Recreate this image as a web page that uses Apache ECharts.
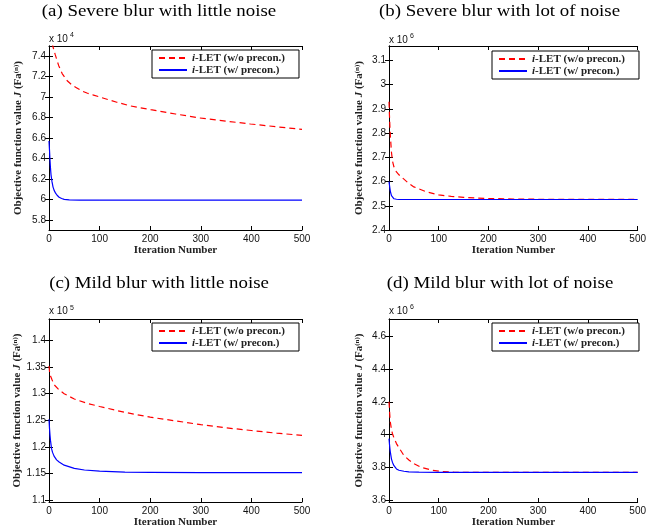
<!DOCTYPE html>
<html><head><meta charset="utf-8">
<script src="https://cdn.jsdelivr.net/npm/echarts@6/dist/echarts.min.js"></script>
<style>html,body{margin:0;padding:0;background:#fff}#c{width:649px;height:531px}</style>
</head><body><div id="c"></div>
<script>
// ---------- data ----------
const panelTitles = ['(a) Severe blur with little noise', '(b) Severe blur with lot of noise',
                     '(c) Mild blur with little noise', '(d) Mild blur with lot of noise'];
const seriesNames = ['i-LET (w/o precon.)', 'i-LET (w/ precon.)'];
const exponents = ['4', '6', '5', '6'];
const xTicks = [0, 100, 200, 300, 400, 500];
const xRange = [0, 500];
const yTicksA = [5.8, 6, 6.2, 6.4, 6.6, 6.8, 7, 7.2, 7.4];
const yTicksB = [2.4, 2.5, 2.6, 2.7, 2.8, 2.9, 3, 3.1];
const yTicksC = [1.1, 1.15, 1.2, 1.25, 1.3, 1.35, 1.4];
const yTicksD = [3.6, 3.8, 4, 4.2, 4.4, 4.6];
const yRangeA = [5.7, 7.5];
const yRangeB = [2.4, 3.16];
const yRangeC = [1.097, 1.44];
const yRangeD = [3.588, 4.706];

// (a) values x 10^4
const iterA_noPre = [0, 4, 8, 12, 19, 26, 36, 45, 55, 65, 75, 88, 101, 117, 134, 160, 201, 250, 298, 350, 398, 450, 500];
const valA_noPre  = [7.72, 7.58, 7.49, 7.42, 7.31, 7.23, 7.16, 7.12, 7.09, 7.06, 7.04, 7.02, 7.0, 6.975, 6.95, 6.915, 6.877, 6.835, 6.796, 6.765, 6.737, 6.71, 6.684];
const iterA_pre   = [0, 1, 2, 3, 4, 6, 8, 10, 13, 16, 20, 25, 30, 40, 60, 100, 200, 300, 400, 500];
const valA_pre    = [6.57, 6.48, 6.38, 6.30, 6.24, 6.17, 6.12, 6.09, 6.06, 6.04, 6.02, 6.008, 6.0, 5.995, 5.993, 5.992, 5.992, 5.992, 5.992, 5.992];
// (b) values x 10^6
const iterB_noPre = [0, 1, 2, 3, 5, 7, 10, 15, 20, 30, 40, 50, 75, 100, 125, 150, 200, 250, 300, 400, 500];
const valB_noPre  = [2.93, 2.87, 2.82, 2.78, 2.72, 2.685, 2.66, 2.64, 2.628, 2.61, 2.592, 2.578, 2.558, 2.545, 2.539, 2.535, 2.53, 2.528, 2.527, 2.527, 2.527];
const iterB_pre   = [0, 1, 2, 3, 5, 7, 10, 15, 20, 30, 100, 500];
const valB_pre    = [2.6, 2.585, 2.57, 2.557, 2.542, 2.534, 2.529, 2.527, 2.526, 2.526, 2.526, 2.526];
// (c) values x 10^5
const iterC_noPre = [0, 1, 3, 6, 10, 20, 30, 50, 75, 100, 150, 200, 250, 300, 350, 400, 450, 500];
const valC_noPre  = [1.352, 1.342, 1.333, 1.326, 1.317, 1.307, 1.300, 1.290, 1.282, 1.276, 1.265, 1.256, 1.249, 1.242, 1.236, 1.231, 1.226, 1.222];
const iterC_pre   = [0, 1, 2, 3, 5, 7, 10, 15, 20, 30, 50, 70, 100, 150, 200, 300, 400, 500];
const valC_pre    = [1.252, 1.235, 1.222, 1.212, 1.197, 1.19, 1.183, 1.176, 1.172, 1.166, 1.160, 1.157, 1.155, 1.153, 1.1525, 1.152, 1.152, 1.152];
// (d) values x 10^6
const iterD_noPre = [0, 1, 2, 3, 5, 7, 10, 15, 20, 30, 40, 50, 65, 85, 105, 130, 160, 200, 300, 400, 500];
const valD_noPre  = [4.20, 4.15, 4.10, 4.07, 4.03, 4.005, 3.98, 3.945, 3.92, 3.872, 3.845, 3.822, 3.80, 3.783, 3.774, 3.770, 3.769, 3.769, 3.769, 3.769, 3.769];
const iterD_pre   = [0, 1, 2, 3, 5, 7, 10, 15, 20, 30, 40, 60, 100, 500];
const valD_pre    = [3.975, 3.94, 3.91, 3.886, 3.85, 3.83, 3.81, 3.79, 3.782, 3.776, 3.772, 3.770, 3.769, 3.769];

// ---------- layout ----------
const pair = (xs, ys) => xs.map((x, i) => [x, ys[i]]);
const panels = [
  { grid: {left: 49, top: 46, width: 253, height: 184}, yT: yTicksA, yR: yRangeA,
    red: pair(iterA_noPre, valA_noPre), blue: pair(iterA_pre, valA_pre),
    title: [159, 11.5], exp: [49, 38.8], legend: [152, 50], nameGapY: 25, nameGapX: 14 },
  { grid: {left: 389, top: 46, width: 254, height: 184}, yT: yTicksB, yR: yRangeB,
    red: pair(iterB_noPre, valB_noPre), blue: pair(iterB_pre, valB_pre),
    title: [499.5, 12], exp: [389, 40], legend: [492, 51], nameGapY: 24, nameGapX: 14 },
  { grid: {left: 49, top: 319, width: 253, height: 183}, yT: yTicksC, yR: yRangeC,
    red: pair(iterC_noPre, valC_noPre), blue: pair(iterC_pre, valC_pre),
    title: [159, 284], exp: [49, 311.5], legend: [152, 323], nameGapY: 25, nameGapX: 15 },
  { grid: {left: 389, top: 319, width: 254, height: 183}, yT: yTicksD, yR: yRangeD,
    red: pair(iterD_noPre, valD_noPre), blue: pair(iterD_pre, valD_pre),
    title: [500, 284], exp: [389, 311], legend: [492, 323], nameGapY: 24, nameGapX: 15 }
];

const SERIF = '"Liberation Serif", "Times New Roman", serif';
const SANS = '"Liberation Sans", Arial, sans-serif';
const lineAxis = {show: true, lineStyle: {color: '#000', width: 1}};
const tick = (vals) => ({show: true, inside: true, length: 4, lineStyle: {color: '#000', width: 1},
                         customValues: vals});

const grid = [], xAxis = [], yAxis = [], series = [], legend = [], graphic = [];
panels.forEach((p, i) => {
  grid.push(Object.assign({containLabel: false}, p.grid));
});
// bottom x axes
panels.forEach((p, i) => {
  xAxis.push({
    type: 'value', gridIndex: i, position: 'bottom', min: xRange[0], max: xRange[1],
    axisLine: lineAxis, splitLine: {show: false},
    axisTick: tick(xTicks),
    axisLabel: {show: true, customValues: xTicks, margin: 4, color: '#111', fontFamily: SANS, fontSize: 10},
    name: 'Iteration Number', nameLocation: 'middle', nameGap: p.nameGapX,
    nameTextStyle: {fontFamily: SERIF, fontWeight: 'bold', fontSize: 11, color: '#222'}
  });
});
// top mirror x axes
panels.forEach((p, i) => {
  xAxis.push({
    type: 'value', gridIndex: i, position: 'top', min: xRange[0], max: xRange[1],
    axisLine: lineAxis, splitLine: {show: false}, axisTick: tick(xTicks), axisLabel: {show: false}
  });
});
// left y axes
panels.forEach((p, i) => {
  yAxis.push({
    type: 'value', gridIndex: i, position: 'left', min: p.yR[0], max: p.yR[1],
    axisLine: lineAxis, splitLine: {show: false},
    axisTick: tick(p.yT),
    axisLabel: {show: true, customValues: p.yT, margin: 3, color: '#111', fontFamily: SANS, fontSize: 10},
    name: '{b|Objective function value }{j|J}{b| (Fa}{s|(n)}{b|)}',
    nameLocation: 'middle', nameGap: p.nameGapY,
    nameTextStyle: {fontFamily: SERIF, fontWeight: 'bold', fontSize: 11, color: '#222',
      rich: {
        b: {fontFamily: SERIF, fontWeight: 'bold', fontSize: 11, color: '#222'},
        j: {fontFamily: SERIF, fontWeight: 'bold', fontStyle: 'italic', fontSize: 11, color: '#222'},
        s: {fontFamily: SERIF, fontWeight: 'bold', fontSize: 7, color: '#222', verticalAlign: 'top'}
      }}
  });
});
// right mirror y axes
panels.forEach((p, i) => {
  yAxis.push({
    type: 'value', gridIndex: i, position: 'right', min: p.yR[0], max: p.yR[1],
    axisLine: lineAxis, splitLine: {show: false}, axisTick: tick(p.yT), axisLabel: {show: false}
  });
});
panels.forEach((p, i) => {
  series.push({
    name: seriesNames[0], type: 'line', xAxisIndex: i, yAxisIndex: i, data: p.red,
    symbol: 'none', clip: true, lineStyle: {color: '#ff0000', width: 1.2, type: [6, 4]},
    itemStyle: {color: '#ff0000'}, z: 2
  });
  series.push({
    name: seriesNames[1], type: 'line', xAxisIndex: i, yAxisIndex: i, data: p.blue,
    symbol: 'none', clip: true, lineStyle: {color: '#0000ff', width: 1.2},
    itemStyle: {color: '#0000ff'}, z: 3
  });
  legend.push({
    left: p.legend[0], top: p.legend[1], orient: 'vertical', align: 'left',
    data: seriesNames, selectedMode: false,
    backgroundColor: '#fff', borderColor: '#000', borderWidth: 1, borderRadius: 0,
    padding: [2, 14, 2, 6], itemWidth: 28, itemHeight: 8, itemGap: 0,
    itemStyle: {color: 'rgba(0,0,0,0)', borderColor: 'rgba(0,0,0,0)', borderWidth: 0, opacity: 0},
    formatter: (name) => '{it|i}{t|' + name.slice(1) + '}',
    textStyle: {fontFamily: SERIF, fontWeight: 'bold', fontSize: 11, color: '#222', lineHeight: 12,
      rich: {
        it: {fontFamily: SERIF, fontStyle: 'italic', fontWeight: 'bold', fontSize: 11, color: '#222', lineHeight: 12},
        t: {fontFamily: SERIF, fontWeight: 'bold', fontSize: 11, color: '#222', lineHeight: 12}
      }}
  });
  graphic.push({
    type: 'text', x: p.title[0], y: p.title[1], scaleX: 1.18, silent: true,
    style: {text: panelTitles[i], font: '16px ' + SERIF, fill: '#000', textAlign: 'center', textVerticalAlign: 'middle'}
  });
  graphic.push({
    type: 'text', x: p.exp[0], y: p.exp[1], silent: true,
    style: {text: 'x 10', font: '10px ' + SANS, fill: '#111', textAlign: 'left', textVerticalAlign: 'middle'}
  });
  graphic.push({
    type: 'text', x: p.exp[0] + 21, y: p.exp[1] - 3.5, silent: true,
    style: {text: exponents[i], font: '7px ' + SANS, fill: '#111', textAlign: 'left', textVerticalAlign: 'middle'}
  });
});

const chart = echarts.init(document.getElementById('c'), null, {renderer: 'canvas'});
chart.setOption({
  animation: false, backgroundColor: '#fff',
  grid, xAxis, yAxis, series, legend, graphic
});
</script></body></html>
